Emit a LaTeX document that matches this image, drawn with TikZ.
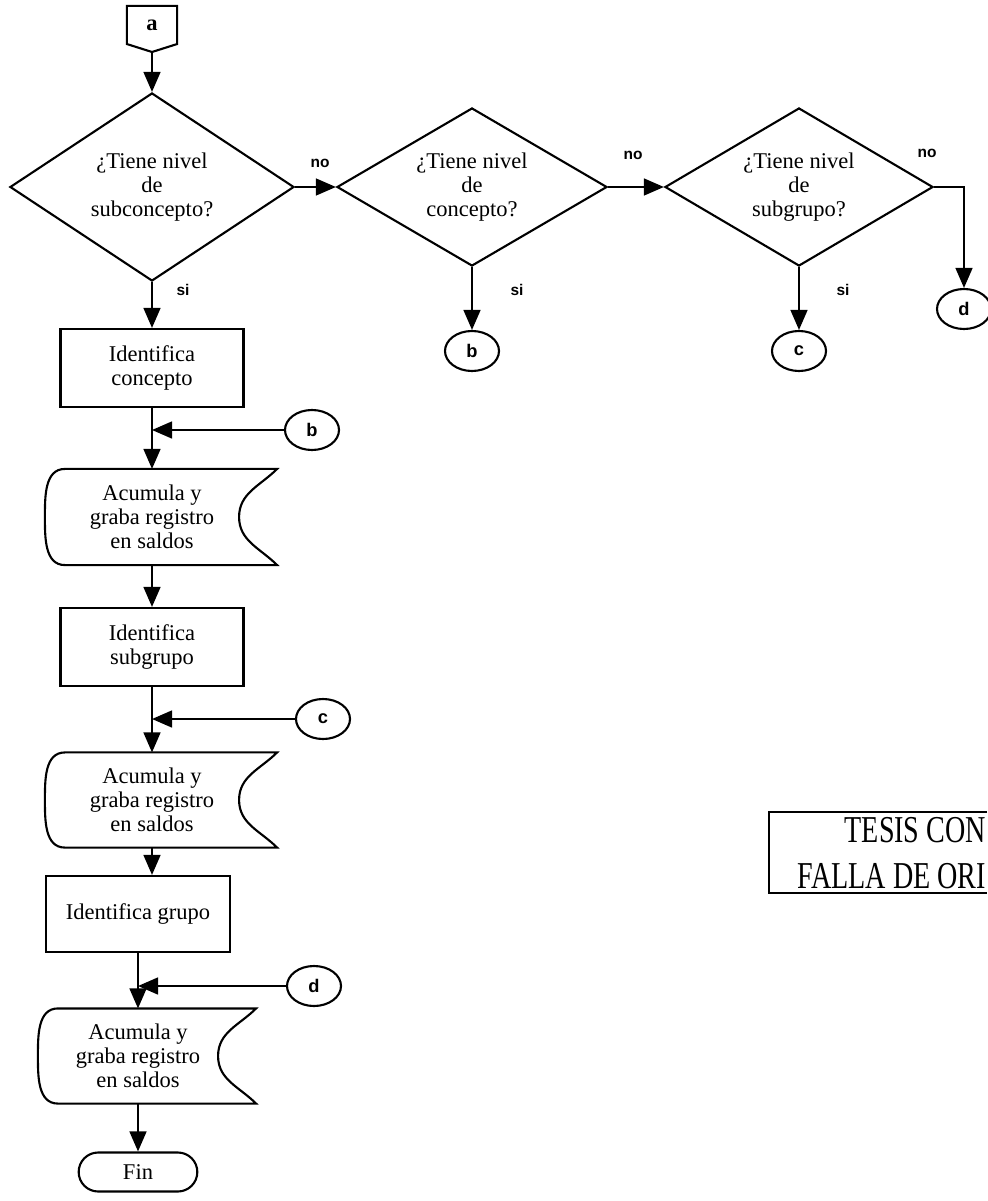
\documentclass[tikz,border=0pt]{standalone}
\usepackage{fontspec}
\setmainfont{Liberation Serif}
\setsansfont{Liberation Sans}
\usetikzlibrary{shapes.geometric,shapes.misc,arrows.meta,calc}

\begin{document}
\begin{tikzpicture}[
  x=0.025cm, y=-0.025cm,
  line width=1.5pt,
  txt/.style={font=\fontsize{16}{17}\selectfont, align=center},
  decision/.style={txt, draw, diamond, aspect=1.7, inner sep=0pt},
  proc/.style={txt, draw, rectangle, minimum width=4.575cm, minimum height=1.95cm},
  store/.style={txt, rectangle, inner sep=0pt, minimum height=2.35cm},
  conn/.style={draw, ellipse, inner sep=0pt, minimum width=1.35cm, minimum height=1cm, font=\sffamily\bfseries\fontsize{13}{14}\selectfont},
  term/.style={txt, draw, rounded rectangle, minimum width=3.2cm, minimum height=0.975cm},
  lbl/.style={font=\sffamily\bfseries\fontsize{11}{12}\selectfont},
  arr/.style={-{Triangle[length=0.5cm,width=0.42cm]}}
]
\useasboundingbox (0,0) rectangle (987,1201);

\node[inner sep=0pt, minimum width=1.2cm, minimum height=0.9cm, font=\bfseries\fontsize{16}{17}\selectfont] (a) at (152,25) {a};
\coordinate (atip) at (152,52);
\draw (a.north west) -- (a.north east) -- (a.south east) -- (atip) -- (a.south west) -- cycle;

\node[decision, minimum width=7.1cm, minimum height=4.7cm] (q1) at (152,187) {¿Tiene nivel\\de\\subconcepto?};
\node[decision, minimum width=6.75cm, minimum height=3.95cm] (q2) at (472,187) {¿Tiene nivel\\de\\concepto?};
\node[decision, minimum width=6.7cm, minimum height=3.95cm] (q3) at (799,187) {¿Tiene nivel\\de\\subgrupo?};

\node[conn] (b1) at (472,351) {b};
\node[conn] (c1) at (799,351) {c};
\node[conn] (d1) at (964,309) {d};

\node[proc] (idcon) at (152,368) {Identifica\\concepto};
\node[conn] (b2) at (312,430) {b};
\node[store, minimum width=4.3cm] (acu1) at (152,517) {Acumula y\\graba registro\\en saldos};
\node[proc] (idsub) at (152,647) {Identifica\\subgrupo};
\node[conn] (c2) at (323,719) {c};
\node[store, minimum width=4.3cm, minimum height=2.325cm] (acu2) at (152,800) {Acumula y\\graba registro\\en saldos};
\node[proc, minimum width=4.6cm, minimum height=1.9cm] (idgru) at (138,914) {Identifica grupo};
\node[conn] (d2) at (314,986) {d};
\node[store, minimum width=3.95cm, minimum height=2.325cm] (acu3) at (138,1056) {Acumula y\\graba registro\\en saldos};
\node[term] (fin) at (138,1172) {Fin};

\foreach \n in {acu1,acu2,acu3}
  \draw (\n.north west) -- ([xshift=0.95cm]\n.north east) to[out=225,in=90] (\n.east)
    to[out=-90,in=135] ([xshift=0.95cm]\n.south east) -- (\n.south west)
    to[out=180,in=-90] ([xshift=-0.5cm]\n.west) to[out=90,in=180] (\n.north west);

\node[lbl] (no1) at (320,163) {no};
\node[lbl] (no2) at (633,155) {no};
\node[lbl] (no3) at (927,153) {no};
\node[lbl] (si1) at (183,290) {si};
\node[lbl] (si2) at (517,290) {si};
\node[lbl] (si3) at (843,290) {si};

\draw[arr] (atip) -- (q1.north);
\draw[arr] (q1.east) -- (q2.west);
\draw[arr] (q2.east) -- (q3.west);
\draw[arr] (q3.east) -| (d1.north);
\draw[arr] (q2.south) -- (b1.north);
\draw[arr] (q3.south) -- (c1.north);
\draw[arr] (q1.south) -- (idcon.north);
\draw[arr] (idcon.south) -- (acu1.north);
\draw[arr] (b2.west) -- (b2.west -| idcon.south);
\draw[arr] (acu1.south) -- (idsub.north);
\draw[arr] (idsub.south) -- (acu2.north);
\draw[arr] (c2.west) -- (c2.west -| idsub.south);
\draw[arr] (acu2.south) -- (acu2.south |- idgru.north);
\draw[arr] (idgru.south) -- (acu3.north);
\draw[arr] (d2.west) -- (d2.west -| idgru.south);
\draw[arr] (acu3.south) -- (fin.north);

\node[anchor=east, inner sep=0pt, align=right, font=\fontsize{27}{33}\selectfont] (tesis) at (987,853)
  {\scalebox{0.74}[1]{TESIS CON}\\\scalebox{0.74}[1]{FALLA DE ORI}};
\draw[line width=1pt] (987,812) -| (769,893) -- (987,893);
\end{tikzpicture}
\end{document}
